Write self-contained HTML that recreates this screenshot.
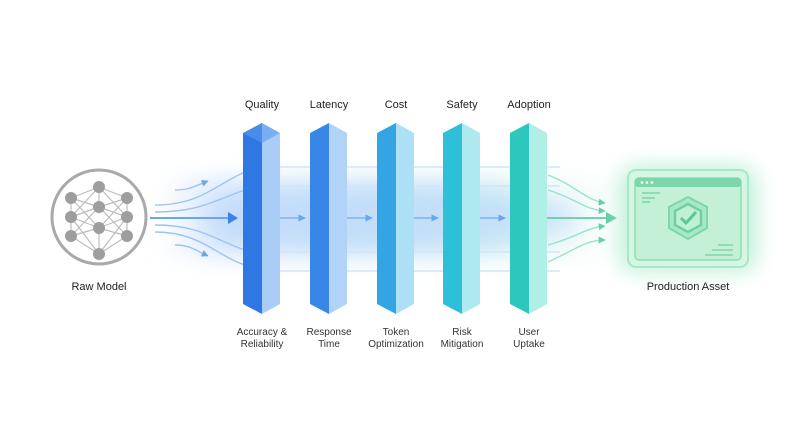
<!DOCTYPE html>
<html><head><meta charset="utf-8"><style>
html,body{margin:0;padding:0;background:#fff;}
svg{display:block;font-family:"Liberation Sans",sans-serif;}
</style></head><body>
<svg width="791" height="437" viewBox="0 0 791 437" xmlns="http://www.w3.org/2000/svg">
<defs>
<filter id="blur" x="-20%" y="-50%" width="140%" height="200%"><feGaussianBlur stdDeviation="12"/></filter>
<filter id="blur2" x="-50%" y="-50%" width="200%" height="200%"><feGaussianBlur stdDeviation="10"/></filter>
<linearGradient id="band" x1="0" x2="1" y1="0" y2="0">
<stop offset="0" stop-color="#cfe2fc" stop-opacity="0"/>
<stop offset="0.15" stop-color="#cfe2fc"/>
<stop offset="0.7" stop-color="#d0eef4"/>
<stop offset="1" stop-color="#d4f5ea" stop-opacity="0"/>
</linearGradient>
<marker id="ar" viewBox="0 0 10 10" refX="9" refY="5" markerWidth="5" markerHeight="5" orient="auto"><path d="M0,0L10,5L0,10z" fill="#6aa6ee"/></marker>
<marker id="ag" viewBox="0 0 10 10" refX="9" refY="5" markerWidth="5" markerHeight="5" orient="auto"><path d="M0,0L10,5L0,10z" fill="#5fd0a6"/></marker>
</defs>
<!-- band -->
<rect x="160" y="180" width="460" height="76" fill="url(#band)" filter="url(#blur)"/>
<ellipse cx="390" cy="218" rx="190" ry="30" fill="#b9d6fa" opacity="0.6" filter="url(#blur)"/>
<g stroke="#d3e4fb" stroke-width="1.5" fill="none">
<line x1="262" y1="167" x2="560" y2="167"/>
<line x1="262" y1="186" x2="560" y2="186"/>
<line x1="262" y1="252" x2="560" y2="252"/>
<line x1="262" y1="271" x2="560" y2="271"/>
</g>
<!-- left flows -->
<g stroke="#9cc3f4" stroke-width="1.4" fill="none">
<path d="M175,190 C190,190 195,186 208,181" marker-end="url(#ar)"/>
<path d="M175,245 C190,245 195,250 208,256" marker-end="url(#ar)"/>
<path d="M155,205 C200,205 215,185 245,172"/>
<path d="M155,212 C200,212 215,200 245,190"/>
<path d="M155,225 C200,225 215,240 245,250"/>
<path d="M155,232 C200,232 215,255 245,265"/>
</g>
<line x1="150" y1="218" x2="232" y2="218" stroke="#6aa6ee" stroke-width="2"/>
<path d="M228,212 L238,218 L228,224z" fill="#3b82e8"/>
<!-- inner arrows -->
<g stroke="#7fb3f0" stroke-width="1.5" marker-end="url(#ar)">
<line x1="270" y1="218" x2="305" y2="218"/>
<line x1="338" y1="218" x2="372" y2="218"/>
<line x1="405" y1="218" x2="438" y2="218"/>
<line x1="472" y1="218" x2="505" y2="218"/>
</g>
<!-- right flows -->
<g stroke="#9ee0c8" stroke-width="1.4" fill="none">
<path d="M548,175 C575,185 585,200 605,203" marker-end="url(#ag)"/>
<path d="M548,190 C575,198 585,210 605,211" marker-end="url(#ag)"/>
<path d="M548,245 C575,238 585,228 605,226" marker-end="url(#ag)"/>
<path d="M548,262 C575,250 585,240 605,240" marker-end="url(#ag)"/>
</g>
<line x1="545" y1="218" x2="610" y2="218" stroke="#6fd3ad" stroke-width="2"/>
<path d="M606,212 L617,218 L606,224z" fill="#5cc99c"/>
<!-- pillars -->
<g>
<g transform="translate(262,0)">
<path d="M-19,133 L0,123 L0,314 L-19,304z" fill="#2f78e4"/>
<path d="M0,123 L18,133 L18,304 L0,314z" fill="#a9cdf7"/>
<path d="M-19,133 L0,123 L18,133 L0,143z" fill="#5c98ec" opacity="0.6"/>
</g>
<g transform="translate(329,0)">
<path d="M-19,133 L0,123 L0,314 L-19,304z" fill="#3887e6"/>
<path d="M0,123 L18,133 L18,304 L0,314z" fill="#b0d3f7"/>
</g>
<g transform="translate(396,0)">
<path d="M-19,133 L0,123 L0,314 L-19,304z" fill="#33a5e2"/>
<path d="M0,123 L18,133 L18,304 L0,314z" fill="#ade0f6"/>
</g>
<g transform="translate(462,0)">
<path d="M-19,133 L0,123 L0,314 L-19,304z" fill="#2ec0d8"/>
<path d="M0,123 L18,133 L18,304 L0,314z" fill="#aee9f0"/>
</g>
<g transform="translate(529,0)">
<path d="M-19,133 L0,123 L0,314 L-19,304z" fill="#2cc7bd"/>
<path d="M0,123 L18,133 L18,304 L0,314z" fill="#b0efe6"/>
</g>
</g>
<!-- network -->
<circle cx="99" cy="217" r="47" fill="#fff" stroke="#a9a9a9" stroke-width="3"/>
<g stroke="#bdbdbd" stroke-width="1.2">
<path d="M99,187 L71,198 M99,187 L127,198 M99,187 L99,207 M99,187 L71,217 M99,187 L127,217"/>
<path d="M71,198 L99,207 M71,198 L99,228 M127,198 L99,207 M127,198 L99,228 M71,217 L99,207 M71,217 L99,228 M127,217 L99,207 M127,217 L99,228 M71,236 L99,207 M71,236 L99,228 M127,236 L99,207 M127,236 L99,228"/>
<path d="M99,254 L71,236 M99,254 L127,236 M99,254 L99,228 M99,254 L71,217 M99,254 L127,217 M71,198 L71,236 M127,198 L127,236"/>
</g>
<g fill="#9e9e9e">
<circle cx="99" cy="187" r="6"/><circle cx="71" cy="198" r="6"/><circle cx="127" cy="198" r="6"/>
<circle cx="99" cy="207" r="6"/><circle cx="71" cy="217" r="6"/><circle cx="127" cy="217" r="6"/>
<circle cx="99" cy="228" r="6"/><circle cx="71" cy="236" r="6"/><circle cx="127" cy="236" r="6"/>
<circle cx="99" cy="254" r="6"/>
</g>
<!-- production asset -->
<rect x="618" y="165" width="140" height="108" rx="20" fill="#b5eed2" opacity="0.8" filter="url(#blur2)"/>
<rect x="628" y="170" width="120" height="97" rx="8" fill="#d6f6e5" stroke="#a6e8c8" stroke-width="2"/>
<rect x="635" y="178" width="106" height="82" rx="4" fill="#c4f0d8" stroke="#8fdcb6" stroke-width="1.5"/>
<rect x="635" y="178" width="106" height="9" rx="3" fill="#7ed6ab"/>
<circle cx="642" cy="182.5" r="1.3" fill="#fff"/><circle cx="647" cy="182.5" r="1.3" fill="#fff"/><circle cx="652" cy="182.5" r="1.3" fill="#fff"/>
<g stroke="#7ed6ab" stroke-width="1.5"><line x1="642" y1="193" x2="660" y2="193"/><line x1="642" y1="198" x2="655" y2="198"/><line x1="642" y1="202" x2="650" y2="202"/>
<line x1="718" y1="245" x2="733" y2="245"/><line x1="712" y1="250" x2="733" y2="250"/><line x1="705" y1="255" x2="733" y2="255"/></g>
<path d="M688,197 L707,207 L707,228 L688,239 L669,228 L669,207z" fill="#a8e8c8" stroke="#7ed6ab" stroke-width="2"/>
<path d="M688,204 L701,211 L701,225 L688,232 L675,225 L675,211z" fill="#bdf0d6" stroke="#6fd0a2" stroke-width="2.5"/>
<path d="M681,218 L686,223 L696,212" fill="none" stroke="#5cc693" stroke-width="3"/>
<!-- labels -->
<g font-size="11" fill="#222" text-anchor="middle">
<text x="262" y="108">Quality</text>
<text x="329" y="108">Latency</text>
<text x="396" y="108">Cost</text>
<text x="462" y="108">Safety</text>
<text x="529" y="108">Adoption</text>
<text x="99" y="290">Raw Model</text>
<text x="688" y="290">Production Asset</text>
</g>
<g font-size="10" fill="#333" text-anchor="middle">
<text x="262" y="335">Accuracy &amp;</text><text x="262" y="347">Reliability</text>
<text x="329" y="335">Response</text><text x="329" y="347">Time</text>
<text x="396" y="335">Token</text><text x="396" y="347">Optimization</text>
<text x="462" y="335">Risk</text><text x="462" y="347">Mitigation</text>
<text x="529" y="335">User</text><text x="529" y="347">Uptake</text>
</g>
</svg>
</body></html>
